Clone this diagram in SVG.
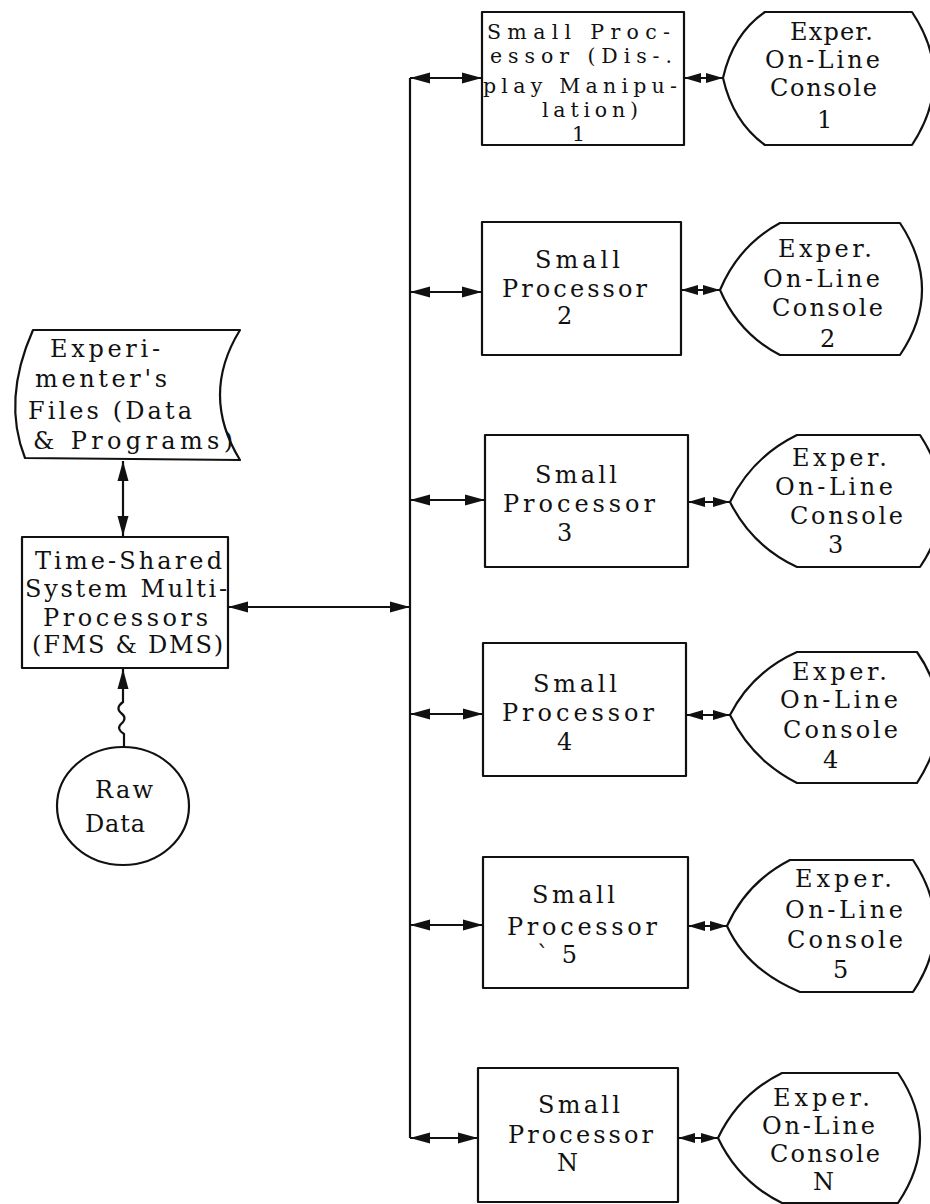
<svg xmlns="http://www.w3.org/2000/svg" width="930" height="1204" viewBox="0 0 930 1204">
  <style>
    .t { font-family: "DejaVu Serif", "Liberation Serif", serif; font-size: 24px; fill: #111; }
    .t1 { font-size: 20.5px; }
    .s { fill: #fff; stroke: #111; stroke-width: 2.2; stroke-linejoin: round; }
    .c { fill: none; stroke: #111; stroke-width: 2.2; }
    .a { marker-start: url(#ah); marker-end: url(#ah); }
    .as { marker-start: url(#ahs); marker-end: url(#ahs); }
  </style>
  <defs>
    <marker id="ah" viewBox="0 0 20 12" refX="20" refY="6" markerWidth="20" markerHeight="12" markerUnits="userSpaceOnUse" orient="auto-start-reverse">
      <path d="M0,0.5 L20,6 L0,11.5 z" fill="#111"/>
    </marker>
    <marker id="ahs" viewBox="0 0 17 11" refX="17" refY="5.5" markerWidth="17" markerHeight="11" markerUnits="userSpaceOnUse" orient="auto-start-reverse">
      <path d="M0,0.5 L17,5.5 L0,10.5 z" fill="#111"/>
    </marker>
  </defs>

  <!-- connectors -->
  <g id="connectors">
    <line class="c" x1="410" y1="78" x2="410" y2="1138"/>
    <line class="c a" x1="123" y1="461" x2="123" y2="536"/>
    <line class="c a" x1="228" y1="607" x2="410" y2="607"/>
    <path class="c" marker-start="url(#ah)" d="M123,669 L123,702 Q115,708 121,713 Q128,718 121,724 Q116,729 124,734 L124,748"/>
    <line class="c a" x1="410" y1="78" x2="482" y2="78"/>
    <line class="c a" x1="410" y1="292" x2="482" y2="292"/>
    <line class="c a" x1="410" y1="500" x2="485" y2="500"/>
    <line class="c a" x1="410" y1="714" x2="483" y2="714"/>
    <line class="c a" x1="410" y1="925" x2="483" y2="925"/>
    <line class="c a" x1="410" y1="1138" x2="478" y2="1138"/>
    <line class="c as" x1="684" y1="78" x2="723" y2="78"/>
    <line class="c as" x1="681" y1="290" x2="720" y2="290"/>
    <line class="c as" x1="688" y1="502" x2="730" y2="502"/>
    <line class="c as" x1="686" y1="715" x2="730" y2="715"/>
    <line class="c as" x1="688" y1="926" x2="727" y2="926"/>
    <line class="c as" x1="678" y1="1138" x2="718" y2="1138"/>
  </g>

  <!-- stored files -->
  <g id="files">
    <path class="s" d="M33,330 L240,330 Q200,395 240,460 L25,458 Q2,400 33,330 Z"/>
    <text class="t" x="50" y="357" textLength="110" lengthAdjust="spacing">Experi-</text>
    <text class="t" x="35" y="387" textLength="132" lengthAdjust="spacing">menter's</text>
    <text class="t" x="28" y="419" textLength="164" lengthAdjust="spacing">Files (Data</text>
    <text class="t" x="33" y="449" textLength="200" lengthAdjust="spacing">&amp; Programs)</text>
  </g>

  <!-- central time-shared system -->
  <g id="timeshared">
    <rect class="s" x="22" y="537" width="206" height="131"/>
    <text class="t" x="35" y="569" textLength="187" lengthAdjust="spacing">Time-Shared</text>
    <text class="t" x="25" y="597" textLength="202" lengthAdjust="spacing">System Multi-</text>
    <text class="t" x="43" y="626" textLength="165" lengthAdjust="spacing">Processors</text>
    <text class="t" x="32" y="653" textLength="191" lengthAdjust="spacing">(FMS &amp; DMS)</text>
  </g>

  <!-- raw data source -->
  <g id="rawdata">
    <ellipse class="s" cx="123" cy="806" rx="66" ry="59"/>
    <text class="t" x="95" y="798" textLength="58" lengthAdjust="spacing">Raw</text>
    <text class="t" x="85" y="832" textLength="60" lengthAdjust="spacing">Data</text>
  </g>

  <!-- small processors -->
  <g id="sp1">
    <rect class="s" x="482" y="12" width="202" height="133"/>
    <text class="t t1" x="487" y="39" textLength="183" lengthAdjust="spacing">Small Proc-</text>
    <text class="t t1" x="490" y="63" textLength="182" lengthAdjust="spacing">essor (Dis-.</text>
    <text class="t t1" x="483" y="93" textLength="194" lengthAdjust="spacing">play Manipu-</text>
    <text class="t t1" x="542" y="117" textLength="96" lengthAdjust="spacing">lation)</text>
    <text class="t t1" x="572" y="141">1</text>
  </g>
  <g id="sp2">
    <rect class="s" x="482" y="222" width="199" height="133"/>
    <text class="t" x="535" y="268" textLength="85" lengthAdjust="spacing">Small</text>
    <text class="t" x="502" y="297" textLength="145" lengthAdjust="spacing">Processor</text>
    <text class="t" x="557" y="324">2</text>
  </g>
  <g id="sp3">
    <rect class="s" x="485" y="435" width="203" height="132"/>
    <text class="t" x="535" y="483" textLength="82" lengthAdjust="spacing">Small</text>
    <text class="t" x="503" y="512" textLength="152" lengthAdjust="spacing">Processor</text>
    <text class="t" x="557" y="541">3</text>
  </g>
  <g id="sp4">
    <rect class="s" x="483" y="643" width="203" height="133"/>
    <text class="t" x="533" y="692" textLength="84" lengthAdjust="spacing">Small</text>
    <text class="t" x="502" y="721" textLength="152" lengthAdjust="spacing">Processor</text>
    <text class="t" x="557" y="750">4</text>
  </g>
  <g id="sp5">
    <rect class="s" x="483" y="857" width="205" height="131"/>
    <text class="t" x="532" y="903" textLength="83" lengthAdjust="spacing">Small</text>
    <text class="t" x="507" y="935" textLength="150" lengthAdjust="spacing">Processor</text>
    <text class="t" x="537" y="963" textLength="40" lengthAdjust="spacing">` 5</text>
  </g>
  <g id="spN">
    <rect class="s" x="478" y="1068" width="200" height="134"/>
    <text class="t" x="538" y="1113" textLength="82" lengthAdjust="spacing">Small</text>
    <text class="t" x="508" y="1143" textLength="145" lengthAdjust="spacing">Processor</text>
    <text class="t" x="557" y="1171">N</text>
  </g>

  <!-- experimenter consoles -->
  <g id="con1">
    <path class="s" d="M723,78 Q733,34 765,12 L912,12 Q956,78 912,145 L765,145 Q733,122 723,78 Z"/>
    <text class="t" x="790" y="40" textLength="83" lengthAdjust="spacing">Exper.</text>
    <text class="t" x="765" y="68" textLength="115" lengthAdjust="spacing">On-Line</text>
    <text class="t" x="770" y="96" textLength="107" lengthAdjust="spacing">Console</text>
    <text class="t" x="817" y="128">1</text>
  </g>
  <g id="con2">
    <path class="s" d="M720,290 Q739,245 780,223 L900,223 Q944,290 900,355 L780,355 Q739,334 720,290 Z"/>
    <text class="t" x="778" y="257" textLength="94" lengthAdjust="spacing">Exper.</text>
    <text class="t" x="763" y="287" textLength="117" lengthAdjust="spacing">On-Line</text>
    <text class="t" x="772" y="316" textLength="111" lengthAdjust="spacing">Console</text>
    <text class="t" x="820" y="347">2</text>
  </g>
  <g id="con3">
    <path class="s" d="M730,502 Q752,457 797,435 L920,435 Q964,502 920,567 L797,567 Q752,546 730,502 Z"/>
    <text class="t" x="792" y="466" textLength="95" lengthAdjust="spacing">Exper.</text>
    <text class="t" x="775" y="495" textLength="118" lengthAdjust="spacing">On-Line</text>
    <text class="t" x="790" y="524" textLength="113" lengthAdjust="spacing">Console</text>
    <text class="t" x="828" y="553">3</text>
  </g>
  <g id="con4">
    <path class="s" d="M730,715 Q752,672 797,652 L917,652 Q961,715 917,783 L797,783 Q752,760 730,715 Z"/>
    <text class="t" x="792" y="680" textLength="95" lengthAdjust="spacing">Exper.</text>
    <text class="t" x="780" y="708" textLength="118" lengthAdjust="spacing">On-Line</text>
    <text class="t" x="783" y="738" textLength="115" lengthAdjust="spacing">Console</text>
    <text class="t" x="823" y="768">4</text>
  </g>
  <g id="con5">
    <path class="s" d="M727,926 Q747,882 790,860 L913,860 Q957,926 913,992 L800,992 Q747,970 727,926 Z"/>
    <text class="t" x="795" y="887" textLength="97" lengthAdjust="spacing">Exper.</text>
    <text class="t" x="785" y="918" textLength="118" lengthAdjust="spacing">On-Line</text>
    <text class="t" x="787" y="948" textLength="116" lengthAdjust="spacing">Console</text>
    <text class="t" x="833" y="978">5</text>
  </g>
  <g id="conN">
    <path class="s" d="M718,1138 Q739,1094 782,1073 L898,1073 Q942,1138 898,1203 L782,1203 Q739,1182 718,1138 Z"/>
    <text class="t" x="773" y="1106" textLength="97" lengthAdjust="spacing">Exper.</text>
    <text class="t" x="762" y="1134" textLength="113" lengthAdjust="spacing">On-Line</text>
    <text class="t" x="770" y="1162" textLength="110" lengthAdjust="spacing">Console</text>
    <text class="t" x="813" y="1190">N</text>
  </g>
</svg>
